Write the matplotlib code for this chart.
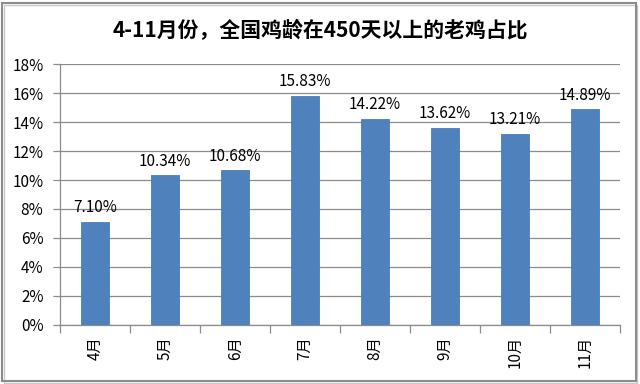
import numpy as np
import matplotlib.pyplot as plt
from matplotlib.patches import Rectangle
from matplotlib.ticker import FixedLocator, PercentFormatter

plt.rcParams['font.family'] = ['Noto Sans CJK SC', 'DejaVu Sans']

# 数据
months = ['4月', '5月', '6月', '7月', '8月', '9月', '10月', '11月']
ratio = [7.10, 10.34, 10.68, 15.83, 14.22, 13.62, 13.21, 14.89]
title = '4-11月份，全国鸡龄在450天以上的老鸡占比'

fig = plt.figure(figsize=(6.4, 3.84), dpi=100)
ax = fig.add_axes([0.094, 0.154, 0.875, 0.679])

x = np.arange(len(months))
bars = ax.bar(x, ratio, width=0.4, color='#4F81BD', edgecolor='#4A7DBA', linewidth=0.6, zorder=3)

for xi, v in zip(x, ratio):
    ax.annotate(f'{v:.2f}%', (xi, v), xytext=(0, 4), textcoords='offset points',
                ha='center', va='bottom', fontsize=11, color='black')

ax.set_xlim(-0.5, len(months) - 0.5)
ax.set_ylim(0, 18)
ax.set_yticks(np.arange(0, 19, 2))
ax.yaxis.set_major_formatter(PercentFormatter(decimals=0))
ax.grid(axis='y', color='#8C8C8C', linewidth=0.9, zorder=0)

# x轴刻度在类别边界，标签在中间
ax.set_xticks(x)
ax.set_xticklabels(months, rotation=90, fontsize=11)
ax.tick_params(axis='x', length=0, pad=8)
ax.xaxis.set_minor_locator(FixedLocator(np.arange(-0.5, len(months), 1)))
ax.tick_params(axis='x', which='minor', length=6, color='#8C8C8C', width=0.9)
ax.tick_params(axis='y', length=5, color='#8C8C8C', width=0.9, labelsize=11, pad=7)

for s in ['top', 'right']:
    ax.spines[s].set_visible(False)
for s in ['left', 'bottom']:
    ax.spines[s].set_color('#8C8C8C')
    ax.spines[s].set_linewidth(0.9)

fig.text(0.5, 0.92, title, ha='center', va='center', fontsize=15, fontweight='bold')

# 外框
fig.patches.append(Rectangle((0.003, 0.008), 0.99, 0.985, transform=fig.transFigure,
                             fill=False, edgecolor='#8C8C8C', linewidth=1.5))
fig.patches.append(Rectangle((0.006, 0.002), 0.99, 0.985, transform=fig.transFigure,
                             fill=False, edgecolor='#C8C8C8', linewidth=1.0, zorder=-1))

fig.savefig('out.png', dpi=100)
